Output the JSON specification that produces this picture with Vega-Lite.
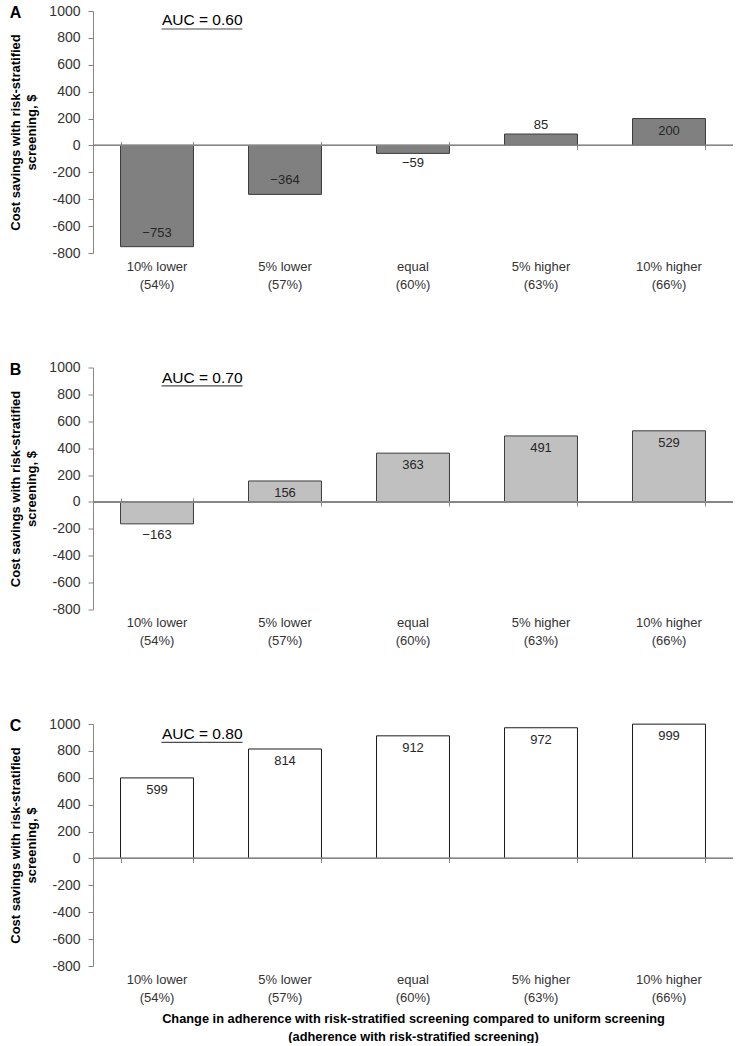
{
  "$schema": "https://vega.github.io/schema/vega-lite/v6.json",
  "background": "white",
  "padding": {"left": 9, "top": 4, "right": 10, "bottom": 0},
  "spacing": 69.5,
  "config": {"view": {"stroke": null}, "font": "Liberation Sans"},
  "datasets": {
    "bars": [
      {"panel": "A", "cat": "10% lower (54%)", "v": -753},
      {"panel": "A", "cat": "5% lower (57%)", "v": -364},
      {"panel": "A", "cat": "equal (60%)", "v": -59},
      {"panel": "A", "cat": "5% higher (63%)", "v": 85},
      {"panel": "A", "cat": "10% higher (66%)", "v": 200},
      {"panel": "B", "cat": "10% lower (54%)", "v": -163},
      {"panel": "B", "cat": "5% lower (57%)", "v": 156},
      {"panel": "B", "cat": "equal (60%)", "v": 363},
      {"panel": "B", "cat": "5% higher (63%)", "v": 491},
      {"panel": "B", "cat": "10% higher (66%)", "v": 529},
      {"panel": "C", "cat": "10% lower (54%)", "v": 599},
      {"panel": "C", "cat": "5% lower (57%)", "v": 814},
      {"panel": "C", "cat": "equal (60%)", "v": 912},
      {"panel": "C", "cat": "5% higher (63%)", "v": 972},
      {"panel": "C", "cat": "10% higher (66%)", "v": 999}
    ],
    "auc": [
      {"panel": "A", "auc": "AUC = 0.60"},
      {"panel": "B", "auc": "AUC = 0.70"},
      {"panel": "C", "auc": "AUC = 0.80"}
    ]
  },
  "vconcat": [
    {
      "width": 640, "height": 242,
      "title": {"text": "A", "anchor": "start", "frame": "bounds", "offset": -17, "fontSize": 16, "fontWeight": "bold", "font": "Liberation Sans", "color": "#000"},
      "resolve": {"axis": {"x": "independent", "y": "independent"}},
      "layer": [
        {"data": {"name": "bars"}, "transform": [{"filter": "datum.panel == 'A'"}],
         "mark": {"type": "bar", "fill": "#808080", "stroke": "#3c3c3c", "strokeWidth": 1},
         "encoding": {
           "x": {"field": "cat", "type": "nominal", "scale": {"domain": ["10% lower (54%)", "5% lower (57%)", "equal (60%)", "5% higher (63%)", "10% higher (66%)"], "paddingInner": 0.43, "paddingOuter": 0.215},
                 "axis": {"orient": "bottom", "title": null, "domain": false, "ticks": false, "labelPadding": 7, "labelFontSize": 13, "labelFont": "Liberation Sans", "labelColor": "#333", "labelAngle": 0, "labelLineHeight": 18, "labelExpr": "[slice(datum.label, 0, indexof(datum.label, ' (')), slice(datum.label, indexof(datum.label, ' (') + 1)]"}},
           "y": {"field": "v", "type": "quantitative", "scale": {"domain": [-800, 1000], "nice": false},
                 "axis": {"title": ["Cost savings with risk-stratified", "screening, $"], "values": [-800, -600, -400, -200, 0, 200, 400, 600, 800, 1000], "grid": false, "domainColor": "#868686", "tickColor": "#868686", "tickSize": 5, "labelPadding": 8, "labelFont": "Liberation Sans", "labelFontSize": 14, "labelColor": "#333", "labelExpr": "'' + datum.value", "titleFont": "Liberation Sans", "titleFontSize": 13, "titleFontWeight": "bold", "titleColor": "#000", "titlePadding": 10, "titleLineHeight": 16}}
         }},
        {"data": {"name": "bars"}, "mark": {"type": "rule", "color": "#868686"},
         "encoding": {"y": {"datum": 0, "type": "quantitative", "scale": {"domain": [-800, 1000], "nice": false}, "axis": null}}},
        {"data": {"name": "bars"}, "transform": [{"filter": "datum.panel == 'A' && datum.v >= 100"}],
         "mark": {"type": "text", "baseline": "top", "dy": 6, "fontSize": 13, "font": "Liberation Sans", "color": "#262626"},
         "encoding": {"x": {"field": "cat", "type": "nominal", "scale": {"domain": ["10% lower (54%)", "5% lower (57%)", "equal (60%)", "5% higher (63%)", "10% higher (66%)"]}, "axis": null},
           "y": {"field": "v", "type": "quantitative", "scale": {"domain": [-800, 1000], "nice": false}, "axis": null},
           "text": {"field": "v", "type": "quantitative", "format": "d"}}},
        {"data": {"name": "bars"}, "transform": [{"filter": "datum.panel == 'A' && datum.v >= 0 && datum.v < 100"}],
         "mark": {"type": "text", "baseline": "bottom", "dy": -2, "fontSize": 13, "font": "Liberation Sans", "color": "#262626"},
         "encoding": {"x": {"field": "cat", "type": "nominal", "scale": {"domain": ["10% lower (54%)", "5% lower (57%)", "equal (60%)", "5% higher (63%)", "10% higher (66%)"]}, "axis": null},
           "y": {"field": "v", "type": "quantitative", "scale": {"domain": [-800, 1000], "nice": false}, "axis": null},
           "text": {"field": "v", "type": "quantitative", "format": "d"}}},
        {"data": {"name": "bars"}, "transform": [{"filter": "datum.panel == 'A' && datum.v <= -300"}],
         "mark": {"type": "text", "baseline": "bottom", "dy": -7, "fontSize": 13, "font": "Liberation Sans", "color": "#262626"},
         "encoding": {"x": {"field": "cat", "type": "nominal", "scale": {"domain": ["10% lower (54%)", "5% lower (57%)", "equal (60%)", "5% higher (63%)", "10% higher (66%)"]}, "axis": null},
           "y": {"field": "v", "type": "quantitative", "scale": {"domain": [-800, 1000], "nice": false}, "axis": null},
           "text": {"field": "v", "type": "quantitative", "format": "d"}}},
        {"data": {"name": "bars"}, "transform": [{"filter": "datum.panel == 'A' && datum.v < 0 && datum.v > -300"}],
         "mark": {"type": "text", "baseline": "top", "dy": 4, "fontSize": 13, "font": "Liberation Sans", "color": "#262626"},
         "encoding": {"x": {"field": "cat", "type": "nominal", "scale": {"domain": ["10% lower (54%)", "5% lower (57%)", "equal (60%)", "5% higher (63%)", "10% higher (66%)"]}, "axis": null},
           "y": {"field": "v", "type": "quantitative", "scale": {"domain": [-800, 1000], "nice": false}, "axis": null},
           "text": {"field": "v", "type": "quantitative", "format": "d"}}},
        {"data": {"name": "auc"}, "transform": [{"filter": "datum.panel == 'A'"}],
         "mark": {"type": "text", "fontSize": 15.5, "font": "Liberation Sans", "color": "#000"},
         "encoding": {"x": {"datum": "10% lower (54%)", "type": "nominal", "bandPosition": 1.12, "scale": {"domain": ["10% lower (54%)", "5% lower (57%)", "equal (60%)", "5% higher (63%)", "10% higher (66%)"]},
                 "axis": {"orient": "bottom", "offset": -111.5, "tickBand": "extent", "ticks": true, "tickSize": 8, "tickColor": "#868686", "domain": false, "labels": false, "title": null, "grid": false}},
           "y": {"datum": 930, "type": "quantitative", "scale": {"domain": [-800, 1000], "nice": false}, "axis": null},
           "text": {"field": "auc"}}},
        {"data": {"name": "auc"}, "transform": [{"filter": "datum.panel == 'A'"}],
         "mark": {"type": "tick", "orient": "horizontal", "size": 81, "thickness": 1.2, "color": "#000", "xOffset": 45},
         "encoding": {"x": {"datum": "10% lower (54%)", "type": "nominal", "scale": {"domain": ["10% lower (54%)", "5% lower (57%)", "equal (60%)", "5% higher (63%)", "10% higher (66%)"]}, "axis": null},
           "y": {"datum": 866, "type": "quantitative", "scale": {"domain": [-800, 1000], "nice": false}, "axis": null}}}
      ]
    },
    {
      "width": 640, "height": 242,
      "title": {"text": "B", "anchor": "start", "frame": "bounds", "offset": -17, "fontSize": 16, "fontWeight": "bold", "font": "Liberation Sans", "color": "#000"},
      "resolve": {"axis": {"x": "independent", "y": "independent"}},
      "layer": [
        {"data": {"name": "bars"}, "transform": [{"filter": "datum.panel == 'B'"}],
         "mark": {"type": "bar", "fill": "#c0c0c0", "stroke": "#3c3c3c", "strokeWidth": 1},
         "encoding": {
           "x": {"field": "cat", "type": "nominal", "scale": {"domain": ["10% lower (54%)", "5% lower (57%)", "equal (60%)", "5% higher (63%)", "10% higher (66%)"], "paddingInner": 0.43, "paddingOuter": 0.215},
                 "axis": {"orient": "bottom", "title": null, "domain": false, "ticks": false, "labelPadding": 7, "labelFontSize": 13, "labelFont": "Liberation Sans", "labelColor": "#333", "labelAngle": 0, "labelLineHeight": 18, "labelExpr": "[slice(datum.label, 0, indexof(datum.label, ' (')), slice(datum.label, indexof(datum.label, ' (') + 1)]"}},
           "y": {"field": "v", "type": "quantitative", "scale": {"domain": [-800, 1000], "nice": false},
                 "axis": {"title": ["Cost savings with risk-stratified", "screening, $"], "values": [-800, -600, -400, -200, 0, 200, 400, 600, 800, 1000], "grid": false, "domainColor": "#868686", "tickColor": "#868686", "tickSize": 5, "labelPadding": 8, "labelFont": "Liberation Sans", "labelFontSize": 14, "labelColor": "#333", "labelExpr": "'' + datum.value", "titleFont": "Liberation Sans", "titleFontSize": 13, "titleFontWeight": "bold", "titleColor": "#000", "titlePadding": 10, "titleLineHeight": 16}}
         }},
        {"data": {"name": "bars"}, "mark": {"type": "rule", "color": "#868686"},
         "encoding": {"y": {"datum": 0, "type": "quantitative", "scale": {"domain": [-800, 1000], "nice": false}, "axis": null}}},
        {"data": {"name": "bars"}, "transform": [{"filter": "datum.panel == 'B' && datum.v >= 100"}],
         "mark": {"type": "text", "baseline": "top", "dy": 6, "fontSize": 13, "font": "Liberation Sans", "color": "#262626"},
         "encoding": {"x": {"field": "cat", "type": "nominal", "scale": {"domain": ["10% lower (54%)", "5% lower (57%)", "equal (60%)", "5% higher (63%)", "10% higher (66%)"]}, "axis": null},
           "y": {"field": "v", "type": "quantitative", "scale": {"domain": [-800, 1000], "nice": false}, "axis": null},
           "text": {"field": "v", "type": "quantitative", "format": "d"}}},
        {"data": {"name": "bars"}, "transform": [{"filter": "datum.panel == 'B' && datum.v >= 0 && datum.v < 100"}],
         "mark": {"type": "text", "baseline": "bottom", "dy": -2, "fontSize": 13, "font": "Liberation Sans", "color": "#262626"},
         "encoding": {"x": {"field": "cat", "type": "nominal", "scale": {"domain": ["10% lower (54%)", "5% lower (57%)", "equal (60%)", "5% higher (63%)", "10% higher (66%)"]}, "axis": null},
           "y": {"field": "v", "type": "quantitative", "scale": {"domain": [-800, 1000], "nice": false}, "axis": null},
           "text": {"field": "v", "type": "quantitative", "format": "d"}}},
        {"data": {"name": "bars"}, "transform": [{"filter": "datum.panel == 'B' && datum.v <= -300"}],
         "mark": {"type": "text", "baseline": "bottom", "dy": -7, "fontSize": 13, "font": "Liberation Sans", "color": "#262626"},
         "encoding": {"x": {"field": "cat", "type": "nominal", "scale": {"domain": ["10% lower (54%)", "5% lower (57%)", "equal (60%)", "5% higher (63%)", "10% higher (66%)"]}, "axis": null},
           "y": {"field": "v", "type": "quantitative", "scale": {"domain": [-800, 1000], "nice": false}, "axis": null},
           "text": {"field": "v", "type": "quantitative", "format": "d"}}},
        {"data": {"name": "bars"}, "transform": [{"filter": "datum.panel == 'B' && datum.v < 0 && datum.v > -300"}],
         "mark": {"type": "text", "baseline": "top", "dy": 5, "fontSize": 13, "font": "Liberation Sans", "color": "#262626"},
         "encoding": {"x": {"field": "cat", "type": "nominal", "scale": {"domain": ["10% lower (54%)", "5% lower (57%)", "equal (60%)", "5% higher (63%)", "10% higher (66%)"]}, "axis": null},
           "y": {"field": "v", "type": "quantitative", "scale": {"domain": [-800, 1000], "nice": false}, "axis": null},
           "text": {"field": "v", "type": "quantitative", "format": "d"}}},
        {"data": {"name": "auc"}, "transform": [{"filter": "datum.panel == 'B'"}],
         "mark": {"type": "text", "fontSize": 15.5, "font": "Liberation Sans", "color": "#000"},
         "encoding": {"x": {"datum": "10% lower (54%)", "type": "nominal", "bandPosition": 1.12, "scale": {"domain": ["10% lower (54%)", "5% lower (57%)", "equal (60%)", "5% higher (63%)", "10% higher (66%)"]},
                 "axis": {"orient": "bottom", "offset": -111.5, "tickBand": "extent", "ticks": true, "tickSize": 8, "tickColor": "#868686", "domain": false, "labels": false, "title": null, "grid": false}},
           "y": {"datum": 925, "type": "quantitative", "scale": {"domain": [-800, 1000], "nice": false}, "axis": null},
           "text": {"field": "auc"}}},
        {"data": {"name": "auc"}, "transform": [{"filter": "datum.panel == 'B'"}],
         "mark": {"type": "tick", "orient": "horizontal", "size": 81, "thickness": 1.2, "color": "#000", "xOffset": 45},
         "encoding": {"x": {"datum": "10% lower (54%)", "type": "nominal", "scale": {"domain": ["10% lower (54%)", "5% lower (57%)", "equal (60%)", "5% higher (63%)", "10% higher (66%)"]}, "axis": null},
           "y": {"datum": 863, "type": "quantitative", "scale": {"domain": [-800, 1000], "nice": false}, "axis": null}}}
      ]
    },
    {
      "width": 640, "height": 242,
      "title": {"text": "C", "anchor": "start", "frame": "bounds", "offset": -17, "fontSize": 16, "fontWeight": "bold", "font": "Liberation Sans", "color": "#000"},
      "resolve": {"axis": {"x": "independent", "y": "independent"}},
      "layer": [
        {"data": {"name": "bars"}, "transform": [{"filter": "datum.panel == 'C'"}],
         "mark": {"type": "bar", "fill": "#ffffff", "stroke": "#1a1a1a", "strokeWidth": 1},
         "encoding": {
           "x": {"field": "cat", "type": "nominal", "scale": {"domain": ["10% lower (54%)", "5% lower (57%)", "equal (60%)", "5% higher (63%)", "10% higher (66%)"], "paddingInner": 0.43, "paddingOuter": 0.215},
                 "axis": {"orient": "bottom", "title": ["Change in adherence with risk-stratified screening compared to uniform screening", "(adherence with risk-stratified screening)"], "titleFont": "Liberation Sans", "titleFontSize": 12.8, "titleFontWeight": "bold", "titleColor": "#000", "titlePadding": 8, "titleLineHeight": 18, "domain": false, "ticks": false, "labelPadding": 7, "labelFontSize": 13, "labelFont": "Liberation Sans", "labelColor": "#333", "labelAngle": 0, "labelLineHeight": 18, "labelExpr": "[slice(datum.label, 0, indexof(datum.label, ' (')), slice(datum.label, indexof(datum.label, ' (') + 1)]"}},
           "y": {"field": "v", "type": "quantitative", "scale": {"domain": [-800, 1000], "nice": false},
                 "axis": {"title": ["Cost savings with risk-stratified", "screening, $"], "values": [-800, -600, -400, -200, 0, 200, 400, 600, 800, 1000], "grid": false, "domainColor": "#868686", "tickColor": "#868686", "tickSize": 5, "labelPadding": 8, "labelFont": "Liberation Sans", "labelFontSize": 14, "labelColor": "#333", "labelExpr": "'' + datum.value", "titleFont": "Liberation Sans", "titleFontSize": 13, "titleFontWeight": "bold", "titleColor": "#000", "titlePadding": 10, "titleLineHeight": 16}}
         }},
        {"data": {"name": "bars"}, "mark": {"type": "rule", "color": "#868686"},
         "encoding": {"y": {"datum": 0, "type": "quantitative", "scale": {"domain": [-800, 1000], "nice": false}, "axis": null}}},
        {"data": {"name": "bars"}, "transform": [{"filter": "datum.panel == 'C' && datum.v >= 100"}],
         "mark": {"type": "text", "baseline": "top", "dy": 6, "fontSize": 13, "font": "Liberation Sans", "color": "#262626"},
         "encoding": {"x": {"field": "cat", "type": "nominal", "scale": {"domain": ["10% lower (54%)", "5% lower (57%)", "equal (60%)", "5% higher (63%)", "10% higher (66%)"]}, "axis": null},
           "y": {"field": "v", "type": "quantitative", "scale": {"domain": [-800, 1000], "nice": false}, "axis": null},
           "text": {"field": "v", "type": "quantitative", "format": "d"}}},
        {"data": {"name": "auc"}, "transform": [{"filter": "datum.panel == 'C'"}],
         "mark": {"type": "text", "fontSize": 15.5, "font": "Liberation Sans", "color": "#000"},
         "encoding": {"x": {"datum": "10% lower (54%)", "type": "nominal", "bandPosition": 1.12, "scale": {"domain": ["10% lower (54%)", "5% lower (57%)", "equal (60%)", "5% higher (63%)", "10% higher (66%)"]},
                 "axis": {"orient": "bottom", "offset": -111.5, "tickBand": "extent", "ticks": true, "tickSize": 8, "tickColor": "#868686", "domain": false, "labels": false, "title": null, "grid": false}},
           "y": {"datum": 925, "type": "quantitative", "scale": {"domain": [-800, 1000], "nice": false}, "axis": null},
           "text": {"field": "auc"}}},
        {"data": {"name": "auc"}, "transform": [{"filter": "datum.panel == 'C'"}],
         "mark": {"type": "tick", "orient": "horizontal", "size": 81, "thickness": 1.2, "color": "#000", "xOffset": 45},
         "encoding": {"x": {"datum": "10% lower (54%)", "type": "nominal", "scale": {"domain": ["10% lower (54%)", "5% lower (57%)", "equal (60%)", "5% higher (63%)", "10% higher (66%)"]}, "axis": null},
           "y": {"datum": 863, "type": "quantitative", "scale": {"domain": [-800, 1000], "nice": false}, "axis": null}}}
      ]
    }
  ]
}
